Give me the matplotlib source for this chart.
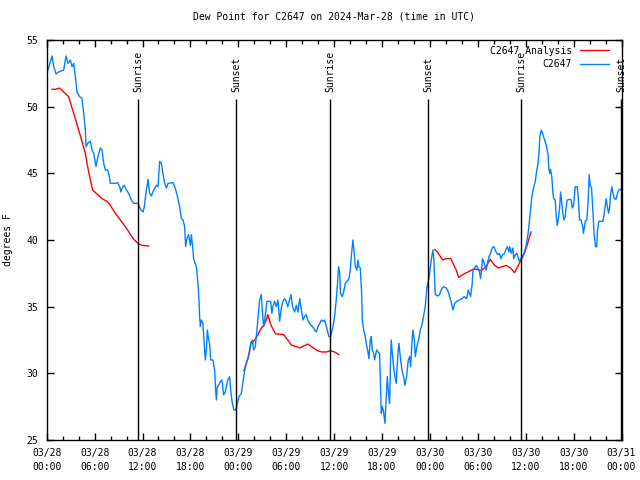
from matplotlib import pyplot as plt
import numpy as np

# hours since 03/28 00:00 UTC
blue_hours = [0.13, 0.67, 0.88, 1.17, 1.5, 2.13, 2.42, 2.67, 2.96, 3.17, 3.38, 3.59, 3.8, 4.13, 4.42,
              4.63, 4.84, 4.93, 5.13, 5.47, 5.68, 5.89, 6.17, 6.42, 6.72, 6.93, 7.14, 7.35, 7.64, 7.85,
              7.97, 8.6, 8.89, 9.14, 9.3, 9.52, 9.73, 9.93, 10.27, 10.69, 10.9, 11.43, 11.81, 12.06,
              12.23, 12.43, 12.69, 12.9, 13.1, 13.4, 13.74, 13.94, 14.15, 14.36, 14.56, 14.78, 14.99,
              15.2, 15.82, 16.03, 16.24, 16.44, 16.65, 16.87, 17.07, 17.28, 17.4, 17.57, 17.78, 17.99,
              18.12, 18.32, 18.4, 18.74, 18.95, 19.07, 19.16, 19.24, 19.37, 19.57, 19.7, 19.87, 20.0,
              20.12, 20.29, 20.41, 20.54, 20.83, 21.04, 21.16, 21.25, 21.37, 21.54, 21.75, 21.95,
              22.16, 22.37, 22.58, 22.75, 22.92, 23.04, 23.25, 23.46, 23.67, 23.83, 24.08, 24.38,
              24.67, 24.8, 25.0, 25.2, 25.42, 25.54, 25.76, 25.92, 26.13, 26.26, 26.38, 26.55, 26.67,
              26.89, 27.0, 27.17, 27.3, 27.42, 27.59, 28.05, 28.21, 28.34, 28.55, 28.76, 28.97, 29.18,
              29.39, 29.6, 29.8, 30.0, 30.2, 30.4, 30.6, 30.8, 31.05, 31.27, 31.47, 31.7, 31.9, 32.1,
              32.3, 32.5, 32.7, 32.9, 33.1, 33.3, 33.56, 33.77, 33.97, 34.2, 34.4, 34.6, 34.8, 35.0,
              35.15, 35.35, 35.56, 35.85, 36.06, 36.27, 36.4, 36.56, 36.7, 36.8, 37.03, 37.19, 37.4,
              37.65, 37.85, 38.03, 38.15, 38.36, 38.48, 38.66, 38.86, 38.99, 39.1, 39.28, 39.45,
              39.53, 39.7, 39.9, 40.03, 40.24, 40.36, 40.53, 40.66, 40.78, 40.95, 41.07, 41.32, 41.5,
              41.7, 41.82, 41.91, 42.04, 42.2, 42.37, 42.54, 42.66, 42.82, 42.95, 43.08, 43.16, 43.29,
              43.45, 43.62, 43.78, 43.99, 44.12, 44.29, 44.5, 44.7, 44.87, 45.08, 45.29, 45.46, 45.58,
              45.75, 45.87, 46.05, 46.17, 46.37, 46.58, 46.8, 46.99, 47.2, 47.41, 47.62, 47.83, 47.96,
              48.17, 48.37, 48.5, 48.67, 49.0, 49.2, 49.4, 49.7, 50.05, 50.3, 50.6, 50.8, 50.9, 51.1,
              51.4, 51.7, 52.05, 52.3, 52.6, 52.8, 53.1, 53.3, 53.4, 53.6, 53.8, 54.0, 54.2, 54.35,
              54.5, 54.6, 54.8, 55.05, 55.2, 55.4, 55.6, 55.8, 56.0, 56.3, 56.5, 56.7, 56.9, 57.1,
              57.3, 57.5, 57.7, 57.9, 58.0, 58.2, 58.4, 58.5, 58.7, 58.9, 59.1, 59.2, 59.4, 59.6,
              59.85, 60.07, 60.3, 60.48, 60.6, 60.77, 60.98, 61.2, 61.33, 61.54, 61.66, 61.77, 61.96,
              62.16, 62.37, 62.58, 62.8, 62.9, 63.0, 63.1, 63.27, 63.4, 63.5, 63.7, 63.83, 63.95,
              64.1, 64.25, 64.37, 64.5, 64.65, 64.78, 64.95, 65.07, 65.2, 65.5, 65.7, 65.83, 66.0,
              66.2, 66.45, 66.6, 66.74, 66.95, 67.1, 67.24, 67.45, 67.66, 67.83, 67.95, 68.08, 68.25,
              68.4, 68.58, 68.75, 68.9, 69.0, 69.16, 69.45, 69.65, 69.78, 69.95, 70.08, 70.2, 70.38,
              70.5, 70.63, 70.8, 70.9, 71.1, 71.3, 71.5, 71.65, 71.9]
blue_vals = [52.7, 53.8, 53.0, 52.45, 52.6, 52.75, 53.8, 53.25, 53.5, 53.0, 53.25, 52.25, 51.1, 50.75,
             50.6, 49.5, 48.25, 47.0, 47.25, 47.4, 46.75, 46.5, 45.5, 46.25, 46.9, 46.75, 45.75, 45.25,
             45.25, 44.75, 44.25, 44.25, 44.3, 44.0, 43.6, 44.0, 44.1, 43.8, 43.5, 42.9, 42.75, 42.75,
             42.25, 42.1, 42.5, 43.5, 44.55, 43.5, 43.3, 43.75, 44.1, 44.0, 45.9, 45.75, 45.0, 44.25,
             43.9, 44.25, 44.3, 44.0, 43.6, 43.1, 42.5, 41.6, 41.5, 41.0, 39.5, 40.1, 40.4, 39.6,
             40.4, 39.25, 38.6, 38.0, 36.75, 35.5, 34.25, 33.5, 34.0, 33.75, 32.5, 31.0, 31.75, 33.25,
             32.5, 32.25, 31.0, 31.0, 30.25, 28.75, 28.0, 29.0, 29.1, 29.4, 29.5, 28.4, 28.6, 29.25,
             29.6, 29.75, 28.75, 27.75, 27.25, 27.25, 27.6, 28.25, 28.5, 29.75, 30.25, 30.75, 31.1,
             31.6, 32.25, 32.5, 31.75, 32.0, 32.75, 33.5, 34.75, 35.5, 35.9, 34.75, 33.5, 34.0, 34.5,
             35.4, 35.4, 34.5, 35.0, 35.4, 35.0, 35.5, 33.9, 34.9, 35.4, 35.6, 35.4, 35.0, 35.5, 35.9,
             35.0, 34.6, 35.1, 34.6, 35.6, 34.75, 34.0, 34.25, 34.4, 34.0, 33.75, 33.6, 33.5, 33.25,
             33.1, 33.5, 33.75, 34.0, 33.9, 34.0, 33.6, 33.25, 32.75, 32.75, 33.5, 34.25, 35.5, 36.5,
             38.0, 37.5, 36.0, 35.75, 36.1, 36.75, 36.9, 37.1, 37.75, 38.75, 40.0, 39.25, 38.0, 37.75,
             38.5, 38.0, 37.9, 36.0, 34.0, 33.25, 32.75, 32.25, 31.6, 31.1, 32.5, 32.75, 31.75, 31.5,
             31.0, 31.75, 31.6, 31.5, 29.0, 27.0, 27.5, 27.1, 26.25, 28.25, 29.75, 28.5, 27.75, 31.25,
             32.5, 31.5, 30.5, 29.75, 29.25, 31.5, 32.25, 31.25, 30.25, 29.75, 29.1, 29.75, 31.0,
             31.25, 30.5, 32.25, 33.25, 32.5, 31.25, 32.0, 32.5, 33.25, 33.6, 34.25, 35.0, 36.4, 37.0,
             37.5, 38.5, 39.25, 38.5, 35.9, 35.8, 35.9, 36.25, 36.5, 36.4, 36.1, 35.5, 35.0, 34.75,
             35.25, 35.4, 35.5, 35.6, 35.75, 35.6, 36.25, 35.75, 36.75, 37.75, 37.9, 38.1, 37.9, 37.6,
             37.1, 38.0, 38.6, 38.25, 37.75, 38.25, 38.75, 39.0, 39.4, 39.5, 39.1, 38.9, 39.0, 38.6,
             38.9, 38.95, 39.25, 39.5, 39.1, 39.5, 39.0, 39.4, 38.6, 38.9, 39.0, 38.6, 38.4, 38.6,
             38.75, 39.1, 39.6, 40.5, 41.5, 42.25, 43.25, 43.9, 44.4, 45.0, 45.75, 46.5, 47.75, 48.25,
             47.9, 47.5, 47.1, 46.4, 45.4, 45.0, 45.3, 44.75, 43.6, 43.1, 43.0, 41.75, 41.1, 41.6,
             42.4, 43.6, 42.9, 42.0, 41.5, 41.75, 42.5, 43.0, 43.05, 43.0, 42.4, 42.6, 44.0, 44.0,
             43.1, 41.5, 41.5, 41.1, 40.5, 41.4, 41.5, 43.0, 44.9, 44.1, 43.9, 42.25, 40.4, 39.5, 39.5,
             40.75, 41.4, 41.4, 41.4, 41.75, 42.5, 43.1, 42.6, 42.0, 42.4, 43.4, 44.0, 43.6, 43.1,
             43.05, 43.5, 43.75, 43.8]

# analysis runs, three separate pieces
red_hours_1 = [0.67, 1.1, 1.63, 2.13, 2.75, 3.17, 3.59, 4.0, 4.42, 4.84, 5.13, 5.47, 5.76, 6.3, 6.93,
               7.55, 7.97, 8.6, 9.22, 9.85, 10.4, 10.9, 11.43, 11.93, 12.77]
red_vals_1 = [51.3, 51.3, 51.4, 51.1, 50.75, 49.9, 49.1, 48.25, 47.4, 46.5, 45.5, 44.5, 43.75, 43.45,
              43.1, 42.9, 42.6, 42.0, 41.5, 41.0, 40.5, 40.05, 39.75, 39.6, 39.55]
red_hours_2 = [24.7, 25.2, 25.6, 26.05, 26.46, 26.88, 27.2, 27.5, 27.7, 28.1, 28.67, 29.1, 29.7, 30.2,
               30.7, 31.27, 31.7, 32.2, 32.7, 33.3, 33.9, 34.47, 35.0, 35.56, 36.06, 36.6]
red_vals_2 = [30.2, 31.1, 32.25, 32.5, 32.9, 33.4, 33.6, 34.0, 34.4, 33.6, 32.95, 32.95, 32.9, 32.5,
              32.1, 32.0, 31.9, 32.05, 32.2, 31.95, 31.7, 31.6, 31.6, 31.7, 31.6, 31.4]
red_hours_3 = [48.6, 49.0, 49.6, 50.05, 50.6, 50.9, 51.3, 51.6, 52.1, 52.75, 53.4, 54.0, 54.4, 55.05,
               55.55, 56.1, 56.6, 57.1, 57.55, 58.1, 58.6, 59.0, 59.4, 59.85, 60.25, 60.65]
red_vals_3 = [39.3, 39.05, 38.5, 38.6, 38.6, 38.25, 37.75, 37.2, 37.4, 37.6, 37.8, 37.8, 37.7, 38.0,
              38.55, 38.1, 37.9, 38.0, 38.1, 37.9, 37.55, 38.0, 38.5, 39.0, 39.75, 40.6]

sun_hours = [11.43, 23.67, 35.46, 47.77, 59.36, 71.88]
sun_labels = ['Sunrise', 'Sunset', 'Sunrise', 'Sunset', 'Sunrise', 'Sunset']

tick_hours = list(range(0, 73, 6))
tick_labels = ['03/28\n00:00', '03/28\n06:00', '03/28\n12:00', '03/28\n18:00',
               '03/29\n00:00', '03/29\n06:00', '03/29\n12:00', '03/29\n18:00',
               '03/30\n00:00', '03/30\n06:00', '03/30\n12:00', '03/30\n18:00',
               '03/31\n00:00']

plt.rcParams['font.family'] = 'DejaVu Sans Mono'
plt.rcParams['font.size'] = 7

fig = plt.figure(figsize=(6.4, 4.8), dpi=100)
ax = fig.add_axes([46.7 / 640, 40 / 480, 574.8 / 640, 400 / 480])

red_h = red_hours_1 + [np.nan] + red_hours_2 + [np.nan] + red_hours_3
red_v = red_vals_1 + [np.nan] + red_vals_2 + [np.nan] + red_vals_3
ax.plot(red_h, red_v, color='#ff0000', lw=1, label='C2647 Analysis')
ax.plot(blue_hours, blue_vals, color='#0080ff', lw=1, label='C2647')

for h, lab in zip(sun_hours, sun_labels):
    ax.vlines(h, 25, 50.6, color='black', lw=1)
    ax.text(h + 0.1, 51.1, lab, rotation=90, ha='center', va='bottom', fontsize=7)

ax.set_xlim(0, 72)
ax.set_ylim(25, 55)
ax.set_xticks(tick_hours)
ax.set_xticklabels(tick_labels, linespacing=1.5)
ax.set_xticks(range(0, 73, 2), minor=True)
ax.set_yticks(range(25, 56, 5))
ax.tick_params(which='both', direction='in', top=True, right=True, width=1)
ax.tick_params(which='major', length=5, pad=6)
ax.tick_params(which='minor', length=3)
for s in ax.spines.values():
    s.set_linewidth(1)

ax.set_ylabel('degrees F', labelpad=10)
ax.set_title('Dew Point for C2647 on 2024-Mar-28 (time in UTC)', pad=15, fontsize=7)

ax.legend(loc='upper right', frameon=False, markerfirst=False, handlelength=3.0,
          handletextpad=0.8, labelspacing=0.35, borderaxespad=0.2, fontsize=7,
          bbox_to_anchor=(0.988, 1.0))

fig.savefig('out.png', dpi=100)
